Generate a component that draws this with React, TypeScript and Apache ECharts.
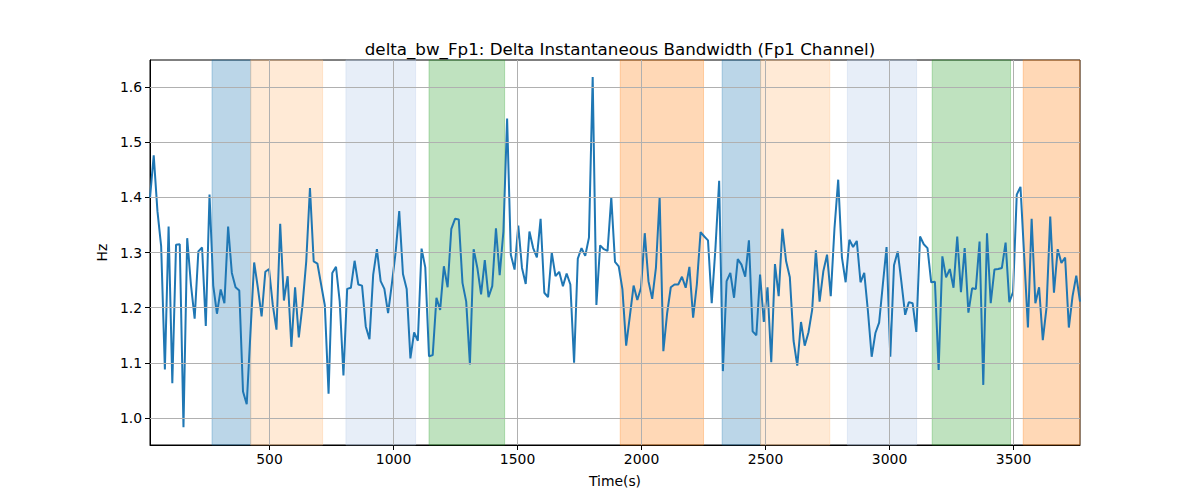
import React, { useEffect, useRef } from "react";
import * as echarts from "echarts";

const TITLE = "delta_bw_Fp1: Delta Instantaneous Bandwidth (Fp1 Channel)";
const X_NAME = "Time(s)";
const Y_NAME = "Hz";

const START_TIME = 18;
const STEP = 15;

const values: number[] = [
  1.399, 1.476, 1.375, 1.311, 1.088, 1.347, 1.063, 1.314, 1.315, 0.983,
  1.326, 1.242, 1.18, 1.302, 1.309, 1.167, 1.405, 1.24, 1.189, 1.233,
  1.208, 1.347, 1.263, 1.237, 1.231, 1.048, 1.025, 1.154, 1.282, 1.236,
  1.184, 1.265, 1.27, 1.205, 1.16, 1.352, 1.213, 1.257, 1.129, 1.237,
  1.146, 1.205, 1.284, 1.417, 1.284, 1.28, 1.242, 1.204, 1.044, 1.263,
  1.274, 1.211, 1.077, 1.234, 1.236, 1.285, 1.242, 1.24, 1.166, 1.143,
  1.26, 1.306, 1.248,
  1.234, 1.19, 1.242, 1.299, 1.375, 1.261, 1.234, 1.108, 1.155, 1.14,
  1.307, 1.273, 1.112, 1.114, 1.218, 1.196, 1.275, 1.237, 1.343, 1.361,
  1.36, 1.245, 1.211, 1.097, 1.306, 1.272, 1.224, 1.286, 1.219, 1.239,
  1.344, 1.259, 1.338, 1.543, 1.296, 1.269, 1.349, 1.272, 1.243, 1.338,
  1.308, 1.291, 1.361, 1.227, 1.219, 1.3, 1.257, 1.265, 1.239, 1.262,
  1.242, 1.1, 1.289, 1.308, 1.294, 1.327, 1.618, 1.205, 1.313, 1.306,
  1.303, 1.4,
  1.283, 1.275, 1.233, 1.131, 1.185, 1.24, 1.214, 1.236, 1.335, 1.248,
  1.216, 1.272, 1.4, 1.121, 1.189, 1.237, 1.242, 1.242, 1.256, 1.236,
  1.274, 1.182, 1.242, 1.337, 1.329, 1.322, 1.208, 1.308, 1.43, 1.085,
  1.248, 1.263, 1.218, 1.288, 1.278, 1.256, 1.322, 1.157, 1.15, 1.26,
  1.174, 1.237, 1.101, 1.279, 1.221, 1.343, 1.284, 1.255, 1.14, 1.095,
  1.174, 1.131, 1.155, 1.196, 1.304, 1.211, 1.266, 1.296, 1.221, 1.344,
  1.432,
  1.291, 1.246, 1.323, 1.31, 1.321, 1.246, 1.263, 1.193, 1.111, 1.154,
  1.173, 1.242, 1.31, 1.111, 1.277, 1.302, 1.246, 1.187, 1.21, 1.208,
  1.156, 1.329, 1.315, 1.308, 1.246, 1.247, 1.087, 1.293, 1.255, 1.27,
  1.236, 1.329, 1.228, 1.308, 1.191, 1.235, 1.234, 1.32, 1.06, 1.335,
  1.208, 1.269, 1.27, 1.272, 1.318, 1.21, 1.228, 1.405, 1.419, 1.293,
  1.164, 1.361, 1.208, 1.237, 1.141, 1.2, 1.365, 1.227, 1.306, 1.281,
  1.291, 1.164, 1.221, 1.258, 1.211,
];

const spanStarts = [268, 424, 808, 1143, 1914, 2325, 2480, 2830, 3172, 3539];
const spanEnds = [424, 714, 1089, 1448, 2250, 2480, 2759, 3109, 3488, 3768];
const spanColors = [
  "31,119,180",
  "255,187,120",
  "174,199,232",
  "44,160,44",
  "255,127,14",
  "31,119,180",
  "255,187,120",
  "174,199,232",
  "44,160,44",
  "255,127,14",
];

const xTicks = [500, 1000, 1500, 2000, 2500, 3000, 3500];
const yTicks = [1.0, 1.1, 1.2, 1.3, 1.4, 1.5, 1.6];

const X_MIN = 18;
const X_MAX = 3768;
const Y_MIN = 0.951;
const Y_MAX = 1.649;

const FONT = "DejaVu Sans";

export default function App() {
  const ref = useRef<HTMLDivElement>(null);

  useEffect(() => {
    if (!ref.current) return;
    const chart = echarts.init(ref.current, null, { renderer: "svg" });
    const lineData = values.map((v, i) => [START_TIME + STEP * i, v]);
    const gridStyle = { color: "#b0b0b0", width: 1, type: "solid" as const };

    chart.setOption({
      animation: false,
      backgroundColor: "#ffffff",
      title: {
        text: TITLE,
        left: 615,
        top: 35,
        textAlign: "center",
        textStyle: { fontFamily: FONT, fontSize: 16.7, fontWeight: "normal", color: "#000" },
      },
      grid: {
        left: 150,
        right: 120,
        top: 60,
        bottom: 55,
        show: true,
        borderColor: "#000",
        borderWidth: 1,
        backgroundColor: "transparent",
      },
      xAxis: {
        type: "value",
        min: X_MIN,
        max: X_MAX,
        name: X_NAME,
        nameLocation: "middle",
        nameGap: 29,
        nameTextStyle: { fontFamily: FONT, fontSize: 13.9, color: "#000" },
        axisLine: { show: true, lineStyle: { color: "#000", width: 1 } },
        axisTick: { show: true, customValues: xTicks, length: 5, lineStyle: { color: "#000" } },
        axisLabel: {
          customValues: xTicks,
          fontFamily: FONT,
          fontSize: 13.9,
          color: "#000",
          margin: 7,
          formatter: (v: number) => String(v),
        },
        splitLine: { show: false },
      },
      yAxis: {
        type: "value",
        min: Y_MIN,
        max: Y_MAX,
        name: Y_NAME,
        nameLocation: "middle",
        nameGap: 38,
        nameRotate: 90,
        nameTextStyle: { fontFamily: FONT, fontSize: 13.9, color: "#000" },
        axisLine: { show: true, lineStyle: { color: "#000", width: 1 } },
        axisTick: { show: true, customValues: yTicks, length: 5, lineStyle: { color: "#000" } },
        axisLabel: {
          customValues: yTicks,
          fontFamily: FONT,
          fontSize: 13.9,
          color: "#000",
          margin: 8,
          formatter: (v: number) => v.toFixed(1),
        },
        splitLine: { show: false },
      },
      series: [
        {
          type: "line",
          data: [],
          z: 1,
          silent: true,
          markArea: {
            silent: true,
            data: spanStarts.map((s, i) => [
              {
                xAxis: s,
                itemStyle: {
                  color: `rgba(${spanColors[i]},0.3)`,
                  borderColor: `rgba(${spanColors[i]},0.3)`,
                  borderWidth: 1,
                },
              },
              { xAxis: spanEnds[i] },
            ]),
          },
        },
        {
          type: "line",
          data: [],
          z: 2,
          silent: true,
          markLine: {
            silent: true,
            symbol: ["none", "none"],
            label: { show: false },
            lineStyle: gridStyle,
            data: [
              ...xTicks.map((t) => ({ xAxis: t })),
              ...yTicks.map((t) => ({ yAxis: t })),
            ],
          },
        },
        {
          type: "line",
          data: lineData,
          z: 3,
          showSymbol: false,
          symbol: "none",
          lineStyle: { color: "#1f77b4", width: 2 },
          itemStyle: { color: "#1f77b4" },
        },
      ],
    });

    return () => chart.dispose();
  }, []);

  return (
    <div
      ref={ref}
      style={{ position: "fixed", left: 0, top: 0, width: 1200, height: 500, background: "#fff" }}
    />
  );
}
